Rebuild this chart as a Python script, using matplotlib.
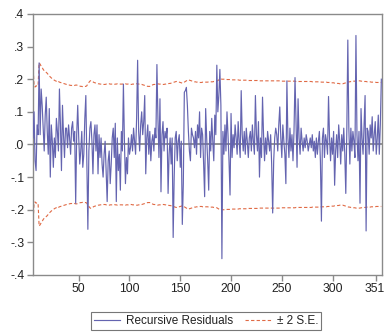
import numpy as np
import matplotlib
matplotlib.use("Agg")
import matplotlib.pyplot as plt
from matplotlib.ticker import FuncFormatter
import matplotlib.transforms as mtransforms

plt.rcParams['font.family'] = ['Liberation Sans', 'DejaVu Sans']

first_obs = 5

resid = [
    0.02, 0.10, -0.05, -0.08, 0.06, 0.03, 0.25, 0.03, 0.17, 0.12,
    0.05, -0.02, 0.09, 0.145, 0.04, -0.03, 0.11, -0.10, 0.06, 0.01,
    -0.07, 0.02, -0.04, 0.08, 0.04, -0.02, 0.17, 0.06, -0.08, 0.12,
    0.03, -0.04, 0.05, 0.05, -0.01, 0.06, 0.02, -0.03, 0.05, 0.07,
    0.01, 0.04, -0.18, 0.03, 0.12, 0.02, -0.06, -0.02, 0.04, -0.07,
    -0.03, 0.08, 0.15, -0.05, -0.26, -0.02, 0.05, 0.07, 0.01, -0.09,
    0.03, 0.06, -0.02, 0.06, -0.09, 0.03, -0.04, 0.02, -0.06, -0.10,
    -0.03, 0.01, -0.08, -0.175, -0.05, -0.02, -0.12, -0.06, 0.02, 0.05,
    -0.04, 0.065, -0.175, 0.02, -0.08, -0.03, -0.14, 0.04, -0.02, 0.185,
    0.01, -0.12, -0.04, -0.09, 0.02, -0.03, -0.01, 0.03, -0.02, 0.05,
    0.01, -0.03, 0.08, 0.258, 0.04, -0.02, 0.06, 0.10, 0.03, 0.07,
    0.15, -0.09, 0.02, 0.06, -0.03, 0.04, -0.05, 0.01, 0.03, -0.02,
    0.05, 0.02, 0.245, 0.08, -0.04, 0.14, -0.145, 0.03, 0.07, -0.02,
    0.04, 0.02, 0.05, -0.15, -0.03, 0.02, -0.06, 0.02, -0.285, -0.10,
    0.02, 0.04, -0.05, 0.01, 0.03, -0.07, 0.01, -0.245, -0.12, 0.16,
    0.165, 0.175, 0.12, 0.04, -0.02, -0.05, 0.05, 0.03, 0.02, -0.01,
    0.04, -0.03, 0.06, 0.02, 0.10, -0.04, 0.05, 0.03, -0.06, -0.16,
    0.11, 0.02, -0.05, -0.14, 0.04, -0.02, 0.08, 0.01, -0.05, 0.09,
    0.03, 0.243, 0.10, 0.15, 0.23, 0.12, -0.35, 0.04, -0.03, 0.06,
    -0.02, 0.10, 0.03, -0.05, -0.155, 0.095, -0.04, 0.03, -0.01, 0.06,
    0.02, -0.03, 0.07, 0.01, -0.04, 0.165, 0.03, -0.02, 0.04, -0.03,
    0.05, 0.01, -0.04, 0.02, 0.04, -0.02, 0.06, 0.01, -0.03, 0.15,
    0.03, -0.02, 0.07, -0.10, 0.02, -0.04, 0.145, 0.03, -0.05, 0.02,
    -0.03, 0.04, 0.01, -0.02, 0.03, -0.06, -0.21, -0.05, 0.02, 0.05,
    0.03, -0.02, 0.06, 0.115, 0.02, -0.04, 0.06, 0.01, -0.03, -0.12,
    0.195, 0.02, -0.04, 0.05, -0.02, 0.03, -0.05, 0.04, 0.205, 0.06,
    -0.07, 0.14, 0.02, -0.03, 0.05, 0.01, -0.02, 0.02, -0.01, 0.03,
    0.01, -0.02, 0.00, 0.02, -0.01, 0.03, -0.02, 0.01, -0.04, 0.02,
    -0.03, 0.01, 0.04, -0.05, -0.235, 0.02, 0.05, -0.04, 0.03, 0.01,
    -0.03, 0.147, 0.02, -0.05, 0.02, -0.03, 0.04, -0.125, -0.02, 0.03,
    -0.04, 0.06, 0.01, -0.06, 0.03, -0.02, 0.05, -0.03, -0.15, 0.04,
    0.32, 0.05, -0.06, 0.05, -0.02, 0.04, 0.01, -0.04, 0.334, 0.03,
    -0.05, 0.04, -0.18, 0.11, 0.02, -0.03, 0.06, 0.15, -0.265, 0.05,
    0.04, -0.03, 0.06, 0.02, 0.085, -0.02, 0.03, 0.07, -0.03, 0.02,
    0.09, -0.03, 0.06, 0.20,
]

se2 = [
    .245, .180, .176, .180, .178, .182, .250, .246, .240, .236,
    .230, .226, .224, .221, .218, .214, .210, .207, .204, .201,
    .199, .197, .195, .194, .196, .193, .191, .190, .189, .188,
    .187, .186, .185, .184, .183, .182, .182, .181, .181, .180,
    .180, .181, .182, .182, .181, .180, .179, .178, .178, .177,
    .177, .178, .178, .180, .186, .190, .194, .196, .194, .192,
    .190, .189, .188, .187, .186, .186, .185, .185, .185, .184,
    .184, .184, .185, .185, .186, .186, .185, .185, .185, .184,
    .184, .185, .185, .186, .186, .185, .185, .185, .185, .186,
    .186, .186, .185, .185, .185, .184, .184, .184, .185, .185,
    .185, .185, .186, .186, .185, .185, .184, .184, .183, .182,
    .181, .180, .179, .178, .178, .178, .179, .181, .183, .184,
    .184, .185, .186, .186, .185, .185, .185, .185, .184, .184,
    .185, .185, .186, .186, .187, .187, .188, .189, .190, .191,
    .192, .193, .193, .192, .191, .190, .189, .188, .189, .191,
    .193, .195, .197, .198, .197, .196, .195, .194, .193, .192,
    .192, .191, .191, .190, .190, .190, .190, .191, .191, .191,
    .191, .191, .191, .192, .192, .192, .192, .192, .193, .193,
    .193, .194, .196, .198, .200, .201, .200, .200, .200, .200,
    .200, .199, .199, .199, .199, .199, .198, .198, .198, .198,
    .198, .198, .198, .197, .197, .197, .197, .197, .197, .197,
    .197, .197, .196, .196, .196, .196, .196, .196, .196, .196,
    .196, .196, .195, .195, .195, .195, .195, .195, .195, .195,
    .195, .195, .195, .195, .195, .195, .195, .195, .195, .195,
    .195, .195, .195, .195, .195, .194, .194, .194, .194, .194,
    .194, .194, .194, .194, .194, .194, .194, .194, .194, .193,
    .193, .193, .193, .193, .193, .193, .193, .193, .193, .193,
    .193, .193, .193, .193, .193, .192, .192, .192, .192, .192,
    .192, .192, .192, .192, .191, .191, .191, .191, .191, .191,
    .190, .190, .190, .190, .189, .189, .189, .188, .188, .188,
    .187, .187, .186, .186, .186, .186, .187, .188, .189, .190,
    .191, .192, .192, .193, .193, .194, .194, .194, .195, .195,
    .195, .195, .195, .194, .194, .194, .193, .193, .193, .192,
    .192, .192, .192, .191, .191, .191, .191, .191, .190, .190,
    .190, .190, .190, .190,
]

xtick_pos = [50, 100, 150, 200, 250, 300, 343]
xtick_labels = ['50', '100', '150', '200', '250', '300', '351']
yticks = [-0.4, -0.3, -0.2, -0.1, 0.0, 0.1, 0.2, 0.3, 0.4]

n = min(len(resid), len(se2))
x = np.arange(n) + first_obs
r = np.array(resid[:n])
s = np.array(se2[:n])

fig = plt.figure(figsize=(3.85, 3.32), dpi=100)
ax = fig.add_axes([0.085, 0.1717, 0.906, 0.7863])

gray = '#8a8a8a'
ax.axhline(0, color=gray, lw=1.3, zorder=1)
ax.plot(x, r, color='#6464b0', lw=0.85, zorder=3, label='Recursive Residuals')
ax.plot(x, s, color='#e06a45', lw=0.8, ls=(0, (3, 2)), zorder=2, label='± 2 S.E.')
ax.plot(x, -s, color='#e06a45', lw=0.8, ls=(0, (3, 2)), zorder=2)

ax.set_xlim(4.7, 348.2)
ax.set_ylim(-0.4, 0.4)
ax.set_xticks(xtick_pos)
ax.set_xticklabels(xtick_labels)
ax.set_yticks(yticks)

def yfmt(v, pos):
    s_ = f"{v:.1f}"
    s_ = s_.replace("0.", ".")
    if s_ == "-.0":
        s_ = ".0"
    return s_
ax.yaxis.set_major_formatter(FuncFormatter(yfmt))

for sp in ax.spines.values():
    sp.set_color(gray)
    sp.set_linewidth(1.0)
ax.tick_params(direction='out', length=4, width=1, color=gray,
               labelsize=8.7, labelcolor='#222222', pad=2)

# nudge last x label slightly left so it stays inside the canvas
last = ax.get_xticklabels()[-1]
last.set_transform(last.get_transform() +
                   mtransforms.ScaledTranslation(-2/100, 0, fig.dpi_scale_trans))

leg = fig.legend(loc='center', bbox_to_anchor=(0.536, 0.034), ncol=2,
                 fontsize=8.5, frameon=True, fancybox=False, handlelength=2.2,
                 handletextpad=0.5, columnspacing=1.0, borderpad=0.25,
                 labelcolor='#222222')
leg.get_frame().set_edgecolor('#555555')
leg.get_frame().set_linewidth(0.8)

fig.savefig('out.png', dpi=100)
